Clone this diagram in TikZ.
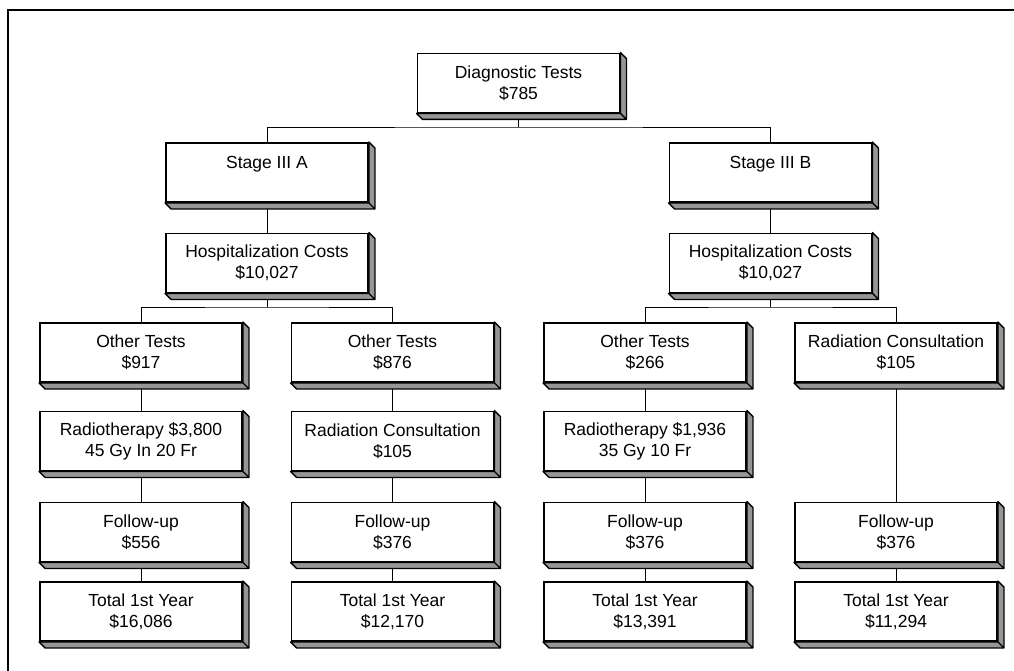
\documentclass[tikz,border=0pt]{standalone}
\usepackage{fontspec}
\setmainfont{Liberation Sans}
\definecolor{shadegray}{RGB}{150,150,150}
\usetikzlibrary{backgrounds}

\begin{document}
\begin{tikzpicture}[x=1pt,y=-1pt,line width=1.9pt,
  costbox/.style={draw,fill=white,minimum width=202pt,minimum height=59pt,inner sep=0pt,align=center,font=\fontsize{17.5}{21}\selectfont},
  side/.style={fill=shadegray,draw,line width=1.4pt,line join=round}]
\useasboundingbox (0,0) rectangle (1014,671);
\clip (0,0) rectangle (1014,671);
\draw (8,10) rectangle (1030,690);
% top levels
\node[costbox] (diag) at (518.5,83) {Diagnostic Tests\\\$785};
\node[costbox] (stA) at (267,172.5) {Stage III A\\\mbox{}};
\node[costbox] (stB) at (770.5,172.5) {Stage III B\\\mbox{}};
\node[costbox] (hospA) at (267,263) {Hospitalization Costs\\\$10,027};
\node[costbox] (hospB) at (770.5,263) {Hospitalization Costs\\\$10,027};
% row of tests
\node[costbox] (testA) at (141,352.5) {Other Tests\\\$917};
\node[costbox] (testB) at (392.5,352.5) {Other Tests\\\$876};
\node[costbox] (testC) at (645,352.5) {Other Tests\\\$266};
\node[costbox] (consD) at (896,352.5) {Radiation Consultation\\\$105};
\node[costbox] (radA) at (141,441) {Radiotherapy \$3,800\\45 Gy In 20 Fr};
\node[costbox] (consB) at (392.5,441) {Radiation Consultation\\\$105};
\node[costbox] (radC) at (645,441) {Radiotherapy \$1,936\\35 Gy 10 Fr};
% follow-up and totals
\foreach \c/\x/\f/\t in {A/141/556/{16,086},B/392.5/376/{12,170},C/645/376/{13,391},D/896/376/{11,294}} {
  \node[costbox] (fol\c) at (\x,532) {Follow-up\\\$\f};
  \node[costbox] (tot\c) at (\x,611.5) {Total 1st Year\\\$\t};
}
\foreach \n in {diag,stA,stB,hospA,hospB,testA,testB,testC,consD,radA,consB,radC,folA,folB,folC,folD,totA,totB,totC,totD} {
  \draw[side] (\n.north east) -- ++(6,6) -- ([shift={(6,6)}]\n.south east) -- ([shift={(6,6)}]\n.south west)
     -- (\n.south west) -- (\n.south east) -- cycle (\n.south east) -- ++(6,6);
}
\begin{scope}[on background layer]
\coordinate (split) at (518.5,127);
\coordinate (splitA) at (267,307);
\coordinate (splitB) at (770.5,307);
\draw (diag) -- (split);
\draw (stA.north) |- (split) -| (stB.north);
\draw (stA) -- (hospA);
\draw (stB) -- (hospB);
\draw (hospA) -- (splitA);
\draw (hospB) -- (splitB);
\draw (testA.north) |- (splitA) -| (testB.north);
\draw (testC.north) |- (splitB) -| (consD.north);
\draw (testA) -- (radA) -- (folA) -- (totA);
\draw (testB) -- (consB) -- (folB) -- (totB);
\draw (testC) -- (radC) -- (folC) -- (totC);
\draw (consD) -- (folD) -- (totD);
\end{scope}
\end{tikzpicture}
\end{document}
